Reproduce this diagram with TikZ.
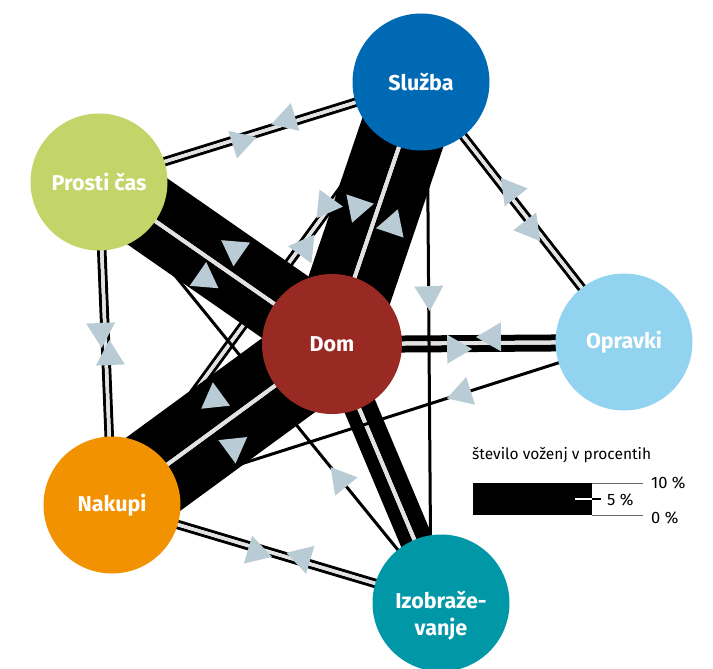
\documentclass[tikz,border=0pt]{standalone}
\usepackage{fontspec}
\setmainfont{Fira Sans}
\usetikzlibrary{calc}
\definecolor{cS}{HTML}{0069B4}
\definecolor{cP}{HTML}{C3D469}
\definecolor{cD}{HTML}{992923}
\definecolor{cO}{HTML}{92D3F0}
\definecolor{cN}{HTML}{F39200}
\definecolor{cI}{HTML}{0097A7}
\definecolor{arrowc}{HTML}{B9CCD6}
\definecolor{gapc}{HTML}{E2E2E2}
\definecolor{legline}{HTML}{666666}
\pgfdeclarelayer{bg}
\pgfsetlayers{bg,main}
% lane: from #1 to #2, offset #3 (pt) to the right of travel, width #4 (pt)
\newcommand\Lane[4]{\draw[line width=#4pt] ($(#1)!#3pt!-90:(#2)$) -- ($(#2)!#3pt!90:(#1)$);}
% band: A B width(A->B) width(B->A) gap
\newcommand\Band[5]{%
  \pgfmathsetmacro\offA{#5/2+#3/2}\pgfmathsetmacro\offB{#5/2+#4/2}%
  \Lane{#1}{#2}{\offA}{#3}\Lane{#2}{#1}{\offB}{#4}%
  \draw[gapc, line width=#5pt] (#1.center) -- (#2.center);}
% arrow triangle pointing from #1 to #2, at fraction #3, offset #4 to the right
\newcommand\Tri[4]{%
  \pgfmathanglebetweenpoints{\pgfpointanchor{#1}{center}}{\pgfpointanchor{#2}{center}}%
  \let\triang\pgfmathresult
  \fill[arrowc, shift={($($(#1)!#3!(#2)$)!#4pt!-90:(#2)$)}, rotate=\triang]
    (14pt,0pt) -- (-11pt,14.5pt) -- (-11pt,-14.5pt) -- cycle;}
\tikzset{
  place/.style={circle, inner sep=0pt, minimum size=137pt, text=white,
    font=\fontsize{21.5}{27}\selectfont\bfseries, align=center},
  thin/.style={line width=3pt},
  legtext/.style={anchor=west, inner sep=0pt, font=\fontsize{16.5}{18}\selectfont},
}
\begin{document}
\begin{tikzpicture}[x=1pt, y=-1pt]
\useasboundingbox (0,0) rectangle (713,669);
% places
\node[place, fill=cS] (S) at (421,82) {Služba};
\node[place, fill=cP] (P) at (99,182) {Prosti čas};
\node[place, fill=cD, minimum size=140pt] (D) at (332,344) {Dom};
\node[place, fill=cO] (O) at (624,342) {Opravki};
\node[place, fill=cN] (N) at (112,505) {Nakupi};
\node[place, fill=cI] (I) at (441,603) {};
\node[text=white, font=\fontsize{21.5}{27}\selectfont\bfseries, align=center] (Il) at (441,616) {Izobraže-\\vanje};
\begin{pgfonlayer}{bg}
  % under the thick bands
  \Band{N}{S}{3}{3}{3.5}
  \draw[thin] (I.center) -- (P.center);
  % thick bands
  \Band{D}{I}{13}{16}{4}
  \Band{P}{D}{33}{40}{4}
  \Band{S}{D}{42}{40}{4}
  \Band{N}{D}{43}{44}{4}
  \Band{D}{O}{7}{6}{4}
  % thin double lines
  \Band{P}{S}{3}{3}{3.5}
  \Band{S}{O}{3}{3}{3.5}
  \Band{P}{N}{3}{3}{3.5}
  \Band{N}{I}{3}{3}{3.5}
  % single lines on top
  \draw[thin] (O.center) -- (N.center);
  \draw[thin] ([xshift=6pt]S.center) -- ([xshift=-10pt]I.center);
  % arrows
  \Tri{P}{S}{0.444}{4}
  \Tri{S}{P}{0.42}{4}
  \Tri{O}{S}{0.58}{4}
  \Tri{S}{O}{0.56}{4}
  \Tri{O}{D}{0.459}{6}
  \Tri{D}{O}{0.432}{6}
  \Tri{P}{N}{0.47}{4}
  \Tri{N}{P}{0.467}{4}
  \Tri{N}{I}{0.449}{4}
  \Tri{I}{N}{0.433}{4}
  \Tri{S}{N}{0.301}{4}
  \Tri{N}{S}{0.618}{4}
  \Tri{S}{I}{0.413}{0}
  \Tri{O}{N}{0.32}{0}
  \Tri{I}{P}{0.297}{0}
  \Tri{D}{P}{0.48}{22}
  \Tri{P}{D}{0.51}{19}
  \Tri{S}{D}{0.511}{20}
  \Tri{D}{S}{0.487}{19}
  \Tri{D}{N}{0.476}{25}
  \Tri{N}{D}{0.496}{25}
\end{pgfonlayer}
% legend
\node[anchor=west, inner sep=0pt, font=\fontsize{15.5}{18}\selectfont] (lt) at (472,455) {število voženj v procentih};
\fill (473,483) rectangle (592,515);
\coordinate (l10) at (643,483);
\coordinate (l0) at (643,515);
\draw[legline, line width=0.8pt] (592,483) -- (l10);
\draw[legline, line width=0.8pt] (592,515) -- (l0);
\draw[white, line width=1.2pt] (575,499) -- (592,499);
\draw[black, line width=1.2pt] (592,499) -- (601,499);
\node[legtext] (t10) at (651,483) {10 \%};
\node[legtext] (t5) at (607,500) {5 \%};
\node[legtext] (t0) at (651,518) {0 \%};
\end{tikzpicture}
\end{document}
